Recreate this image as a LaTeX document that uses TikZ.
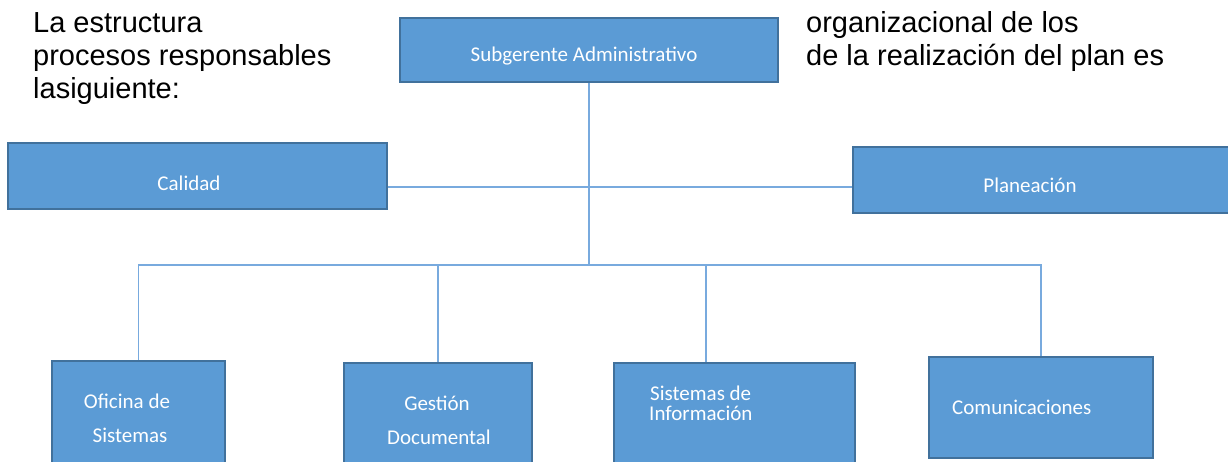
\documentclass[tikz,border=0pt]{standalone}
\usepackage{fontspec}
\setmainfont{Liberation Sans}
\newfontfamily\cajafont{Carlito}
\definecolor{azulcaja}{RGB}{91,155,213}
\definecolor{bordecaja}{RGB}{65,113,156}
\definecolor{azullinea}{RGB}{120,170,222}
\begin{document}
\begin{tikzpicture}[x=1pt,y=-1pt]


\tikzset{caja/.style={rectangle,draw=bordecaja,fill=azulcaja,line width=1.6pt,inner sep=0pt},}
\tikzset{etiq/.style={inner sep=0pt,anchor=base,text=white,font=\cajafont\fontsize{21}{25}\selectfont},}
\tikzset{texto/.style={inner sep=0pt,anchor=base west,font=\fontsize{29}{33}\selectfont},}
\tikzset{linea/.style={draw=azullinea,line width=1.3pt}}

	\useasboundingbox (0,0) rectangle (1228,461);

	\draw
		(589,50) node[caja,minimum width=378,minimum height=64] (sub) {}
		(197.5,176) node[caja,minimum width=379,minimum height=66] (cal) {}
		(1046.5,180) node[caja,minimum width=387,minimum height=66] (pla) {}
		(138.5,425.5) node[caja,minimum width=173,minimum height=129] (ofi) {}
		(438,426.5) node[caja,minimum width=188,minimum height=127] (ges) {}
		(734.5,426.5) node[caja,minimum width=241,minimum height=127] (sis) {}
		(1041,407.5) node[caja,minimum width=224,minimum height=101] (com) {};

	\coordinate (barra) at (586,265);
	\coordinate (medio) at (586,187);

	\draw[linea](sub.south) -- (sub.south |- barra);
	\draw[linea](cal.east |- medio) -- (pla.west |- medio);
	\draw[linea](ofi.north) -- (ofi.north |- barra) -- (com.north |- barra) -- (com.north);
	\draw[linea](ges.north) -- (ges.north |- barra);
	\draw[linea]([xshift=-28.5pt]sis.north) -- ([xshift=-28.5pt]sis.north |- barra);

	\draw(33,32)node[texto] (t1) {La estructura};
	\draw(33,65)node[texto] (t2) {procesos responsables};
	\draw(33,98)node[texto] (t3) {lasiguiente:};
	\draw(806,32)node[texto] (t4) {organizacional de los};
	\draw(806,65)node[texto] (t5) {de la realización del plan es};

	\draw(584,61)node[etiq] (e1) {Subgerente Administrativo};
	\draw(189,190)node[etiq] (e2) {Calidad};
	\draw(1030,192)node[etiq] (e3) {Planeación};
	\draw(127,408)node[etiq] (e4) {Oficina de};
	\draw(130,442)node[etiq] (e5) {Sistemas};
	\draw(437,410)node[etiq] (e6) {Gestión};
	\draw(439,444)node[etiq] (e7) {Documental};
	\draw(650,400)node[etiq,anchor=base west] (e8) {Sistemas de};
	\draw(649,420)node[etiq,anchor=base west] (e9) {Información};
	\draw(952,414)node[etiq,anchor=base west] (e10) {Comunicaciones};

\end{tikzpicture}
\end{document}
